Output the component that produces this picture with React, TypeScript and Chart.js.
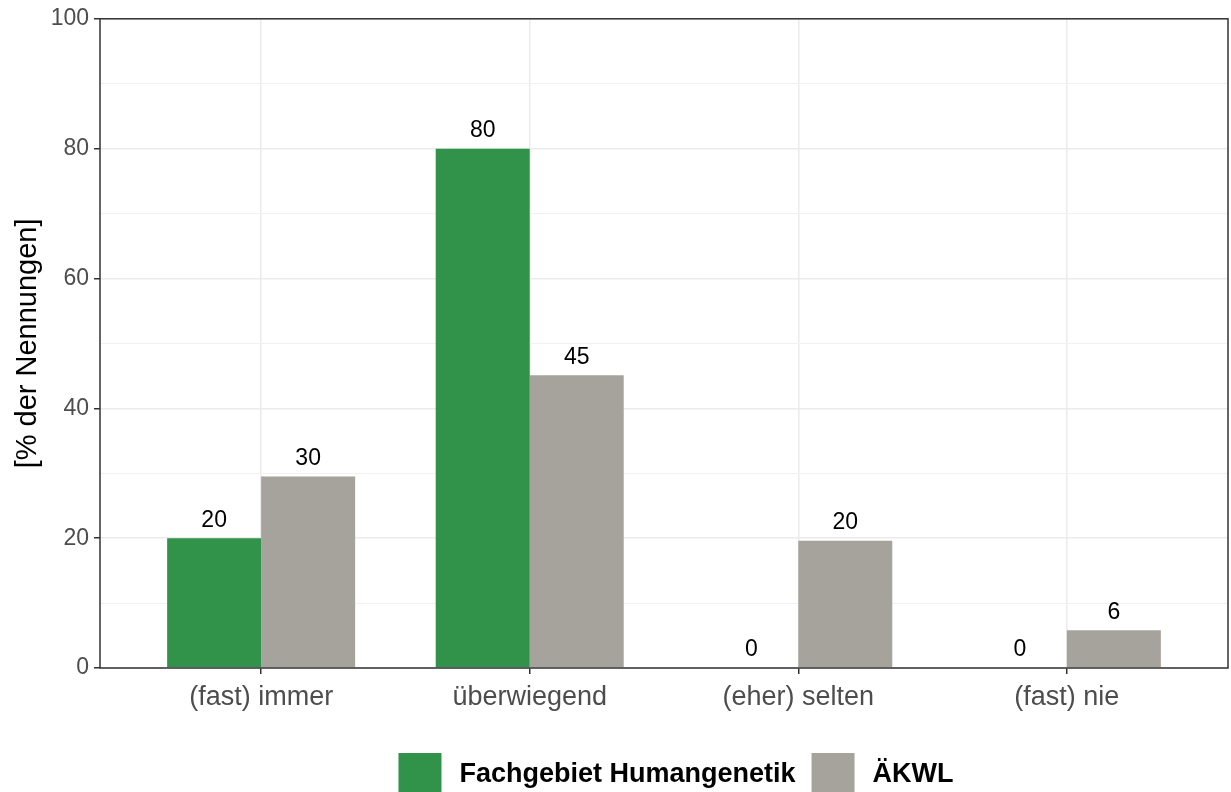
import React, { useEffect, useRef } from "react";
import { Chart, registerables } from "chart.js";

Chart.register(...registerables);

const categories = ["(fast) immer", "überwiegend", "(eher) selten", "(fast) nie"];
const seriesNames = ["Fachgebiet Humangenetik", "ÄKWL"];
const humangenetik = [20, 80, 0, 0];
const aekwl = [29.5, 45.1, 19.6, 5.8];
const seriesColors = ["#31924A", "#A6A39C"];
const yTicks = [0, 20, 40, 60, 80, 100];
const yTitle = "[% der Nennungen]";

const FONT = "'Liberation Sans', Arial, Helvetica, sans-serif";

export default function App() {
  const ref = useRef<HTMLCanvasElement | null>(null);

  useEffect(() => {
    const canvas = ref.current;
    if (!canvas) return;

    const toPoints = (arr: number[]) => arr.map((v, i) => ({ x: i + 1, y: v }));

    const extras = {
      id: "extras",
      afterDatasetsDraw(chart: any) {
        const ctx = chart.ctx;
        const a = chart.chartArea;
        ctx.save();
        // value labels
        ctx.font = `23px ${FONT}`;
        ctx.fillStyle = "#000000";
        ctx.textAlign = "center";
        ctx.textBaseline = "middle";
        chart.data.datasets.forEach((ds: any, di: number) => {
          const meta = chart.getDatasetMeta(di);
          meta.data.forEach((bar: any, i: number) => {
            const v = ds.data[i].y;
            ctx.fillText(String(Math.round(v)), bar.x, bar.y - 18);
          });
        });
        // panel border
        ctx.strokeStyle = "#333333";
        ctx.lineWidth = 1.5;
        ctx.strokeRect(a.left, a.top, a.right - a.left, a.bottom - a.top);
        ctx.restore();
      },
      afterDraw(chart: any) {
        const ctx = chart.ctx;
        const a = chart.chartArea;
        ctx.save();
        // y title
        ctx.font = `29px ${FONT}`;
        ctx.fillStyle = "#000000";
        ctx.textAlign = "center";
        ctx.textBaseline = "middle";
        ctx.translate(28, (a.top + a.bottom) / 2);
        ctx.rotate(-Math.PI / 2);
        ctx.fillText(yTitle, 0, 0);
        ctx.restore();

        // legend
        ctx.save();
        ctx.font = `bold 27px ${FONT}`;
        ctx.textBaseline = "middle";
        ctx.textAlign = "left";
        const box = 43;
        const gapText = 18;
        const gapItem = 16;
        const widths = seriesNames.map((n) => ctx.measureText(n).width);
        let total = 0;
        widths.forEach((w, i) => {
          total += box + gapText + w + (i < widths.length - 1 ? gapItem : 0);
        });
        let x = 676 - total / 2;
        const top = 753;
        seriesNames.forEach((n, i) => {
          ctx.fillStyle = seriesColors[i];
          ctx.fillRect(x, top, box, box);
          ctx.fillStyle = "#000000";
          ctx.fillText(n, x + box + gapText, top + box / 2);
          x += box + gapText + widths[i] + gapItem;
        });
        ctx.restore();
      },
    };

    const chart = new Chart(canvas, {
      type: "bar",
      data: {
        datasets: [
          {
            label: seriesNames[0],
            data: toPoints(humangenetik),
            backgroundColor: seriesColors[0],
            borderWidth: 0,
            categoryPercentage: 0.7,
            barPercentage: 1.0,
          },
          {
            label: seriesNames[1],
            data: toPoints(aekwl),
            backgroundColor: seriesColors[1],
            borderWidth: 0,
            categoryPercentage: 0.7,
            barPercentage: 1.0,
          },
        ],
      },
      plugins: [extras],
      options: {
        animation: false,
        responsive: false,
        maintainAspectRatio: false,
        devicePixelRatio: 1,
        layout: { padding: { left: 0, right: 3, top: 18, bottom: 0 } },
        plugins: {
          legend: { display: false },
          tooltip: { enabled: false },
        },
        scales: {
          x: {
            type: "linear",
            min: 0.4,
            max: 4.6,
            offset: false,
            afterBuildTicks: (scale: any) => {
              scale.ticks = categories.map((_, i) => ({ value: i + 1 }));
            },
            afterFit: (scale: any) => {
              scale.height = 124;
            },
            border: { display: false },
            grid: {
              offset: false,
              color: "#EBEBEB",
              lineWidth: 1.5,
              tickColor: "#333333",
              tickLength: 6,
              drawTicks: true,
            },
            ticks: {
              autoSkip: false,
              maxRotation: 0,
              padding: 7,
              color: "#4D4D4D",
              font: { family: FONT, size: 27 },
              callback: (v: any) => {
                const idx = Math.round(Number(v)) - 1;
                return categories[idx] ?? "";
              },
            },
          },
          y: {
            min: 0,
            max: 100,
            afterBuildTicks: (scale: any) => {
              const t: any[] = [];
              for (let v = 0; v <= 100; v += 10) t.push({ value: v });
              scale.ticks = t;
            },
            afterFit: (scale: any) => {
              scale.width = 100;
            },
            border: { display: false },
            grid: {
              color: (c: any) => (c.tick && yTicks.includes(c.tick.value) ? "#EBEBEB" : "#F1F1F1"),
              lineWidth: (c: any) => (c.tick && yTicks.includes(c.tick.value) ? 1.5 : 1),
              tickColor: (c: any) => (c.tick && yTicks.includes(c.tick.value) ? "#333333" : "rgba(0,0,0,0)"),
              tickLength: 6,
              drawTicks: true,
            },
            ticks: {
              autoSkip: false,
              padding: 5,
              color: "#4D4D4D",
              font: { family: FONT, size: 23 },
              callback: (v: any) => (yTicks.includes(Number(v)) ? String(v) : ""),
            },
          },
        },
      },
    });

    return () => {
      chart.destroy();
    };
  }, []);

  return (
    <div style={{ position: "absolute", left: 0, top: 0, width: 1231, height: 792, overflow: "hidden", background: "#fff" }}>
      <canvas ref={ref} width={1231} height={792} style={{ display: "block", width: 1231, height: 792 }} />
    </div>
  );
}
